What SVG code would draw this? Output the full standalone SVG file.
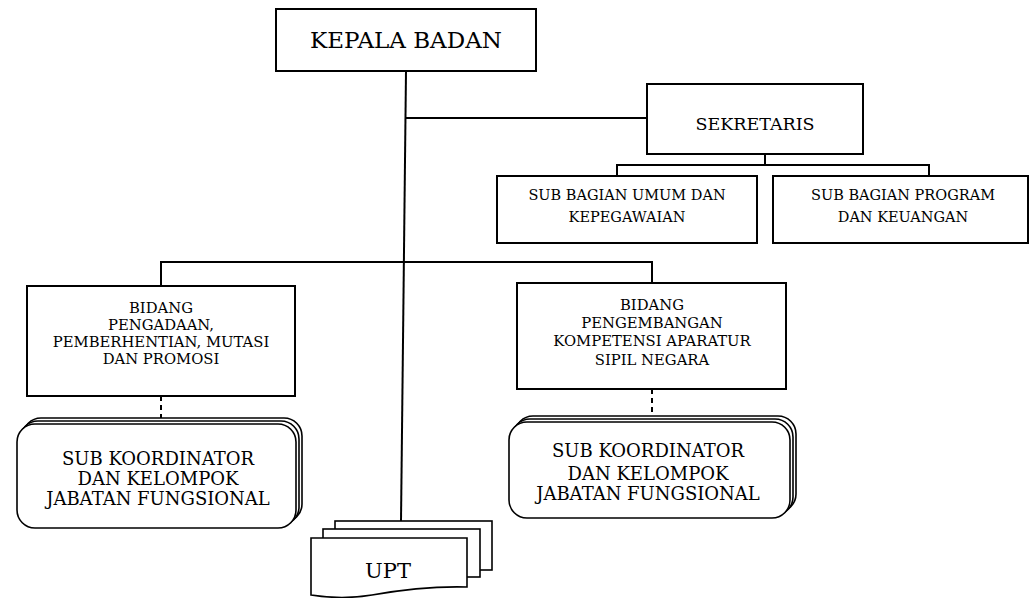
<svg xmlns="http://www.w3.org/2000/svg" width="1030" height="598" viewBox="0 0 1030 598">
<style>
.box{fill:#fff;stroke:#000;stroke-width:2}
.stk{fill:#fff;stroke:#000;stroke-width:1.6}
.ln{fill:none;stroke:#000;stroke-width:2}
.dash{fill:none;stroke:#000;stroke-width:2;stroke-dasharray:5,4}
text{font-family:"DejaVu Serif","Liberation Serif",serif;fill:#000;text-anchor:middle}
.sb{font-size:14.5px}
.bd{font-size:14.8px}
.sk{font-size:18px}
</style>
<rect width="1030" height="598" fill="#fff"/>
<g id="connectors">
<path class="ln" d="M406,71 L401,521"/>
<path class="ln" d="M405,118 H647"/>
<path class="ln" d="M765,154 V165 M617,176 V165 H929 V176"/>
<path class="ln" d="M161,286 V262 H652 V283"/>
<path class="dash" d="M161,396 V418"/>
<path class="dash" d="M652,389 V416"/>
</g>
<g id="kepala-badan">
<rect class="box" x="276" y="9" width="260" height="62"/>
<text x="406" y="48" font-size="23">KEPALA BADAN</text>
</g>
<g id="sekretaris">
<rect class="box" x="647" y="84" width="216" height="70"/>
<text x="755" y="130" font-size="17.5">SEKRETARIS</text>
</g>
<g id="subbag-umum">
<rect class="box" x="497" y="176" width="260" height="67"/>
<text class="sb" x="627" y="200">SUB BAGIAN UMUM DAN</text>
<text class="sb" x="627" y="222">KEPEGAWAIAN</text>
</g>
<g id="subbag-program">
<rect class="box" x="773" y="176" width="255" height="67"/>
<text class="sb" x="903" y="200">SUB BAGIAN PROGRAM</text>
<text class="sb" x="903" y="222">DAN KEUANGAN</text>
</g>
<g id="bidang-pengadaan">
<rect class="box" x="27" y="286" width="268" height="110"/>
<text class="bd" x="161" y="313">BIDANG</text>
<text class="bd" x="161" y="330">PENGADAAN,</text>
<text class="bd" x="161" y="347">PEMBERHENTIAN, MUTASI</text>
<text class="bd" x="161" y="363.5">DAN PROMOSI</text>
</g>
<g id="bidang-pengembangan">
<rect class="box" x="517" y="283" width="269" height="106"/>
<text class="bd" x="652" y="309.5">BIDANG</text>
<text class="bd" x="652" y="327.5">PENGEMBANGAN</text>
<text class="bd" x="652" y="346">KOMPETENSI APARATUR</text>
<text class="bd" x="652" y="365">SIPIL NEGARA</text>
</g>
<g id="subkoor-1">
<rect class="stk" x="23" y="418" width="279" height="104" rx="18"/>
<rect class="stk" x="20" y="421" width="279" height="104" rx="18"/>
<rect class="stk" x="17" y="424" width="279" height="104" rx="18"/>
<text class="sk" x="158" y="465">SUB KOORDINATOR</text>
<text class="sk" x="158" y="485">DAN KELOMPOK</text>
<text class="sk" x="158" y="505">JABATAN FUNGSIONAL</text>
</g>
<g id="subkoor-2">
<rect class="stk" x="515" y="416" width="281" height="96" rx="18"/>
<rect class="stk" x="512" y="419" width="281" height="96" rx="18"/>
<rect class="stk" x="509" y="422" width="281" height="96" rx="18"/>
<text class="sk" x="648" y="457">SUB KOORDINATOR</text>
<text class="sk" x="648" y="480">DAN KELOMPOK</text>
<text class="sk" x="648" y="500">JABATAN FUNGSIONAL</text>
</g>
<g id="upt">
<rect class="stk" x="335" y="521" width="157" height="49"/>
<rect class="stk" x="323" y="529" width="157" height="48"/>
<path class="stk" d="M311,538 H467 V587 C430,586 400,590 372,595 C348,599 330,598 311,595 Z"/>
<text x="388" y="578" font-size="21">UPT</text>
</g>
</svg>
